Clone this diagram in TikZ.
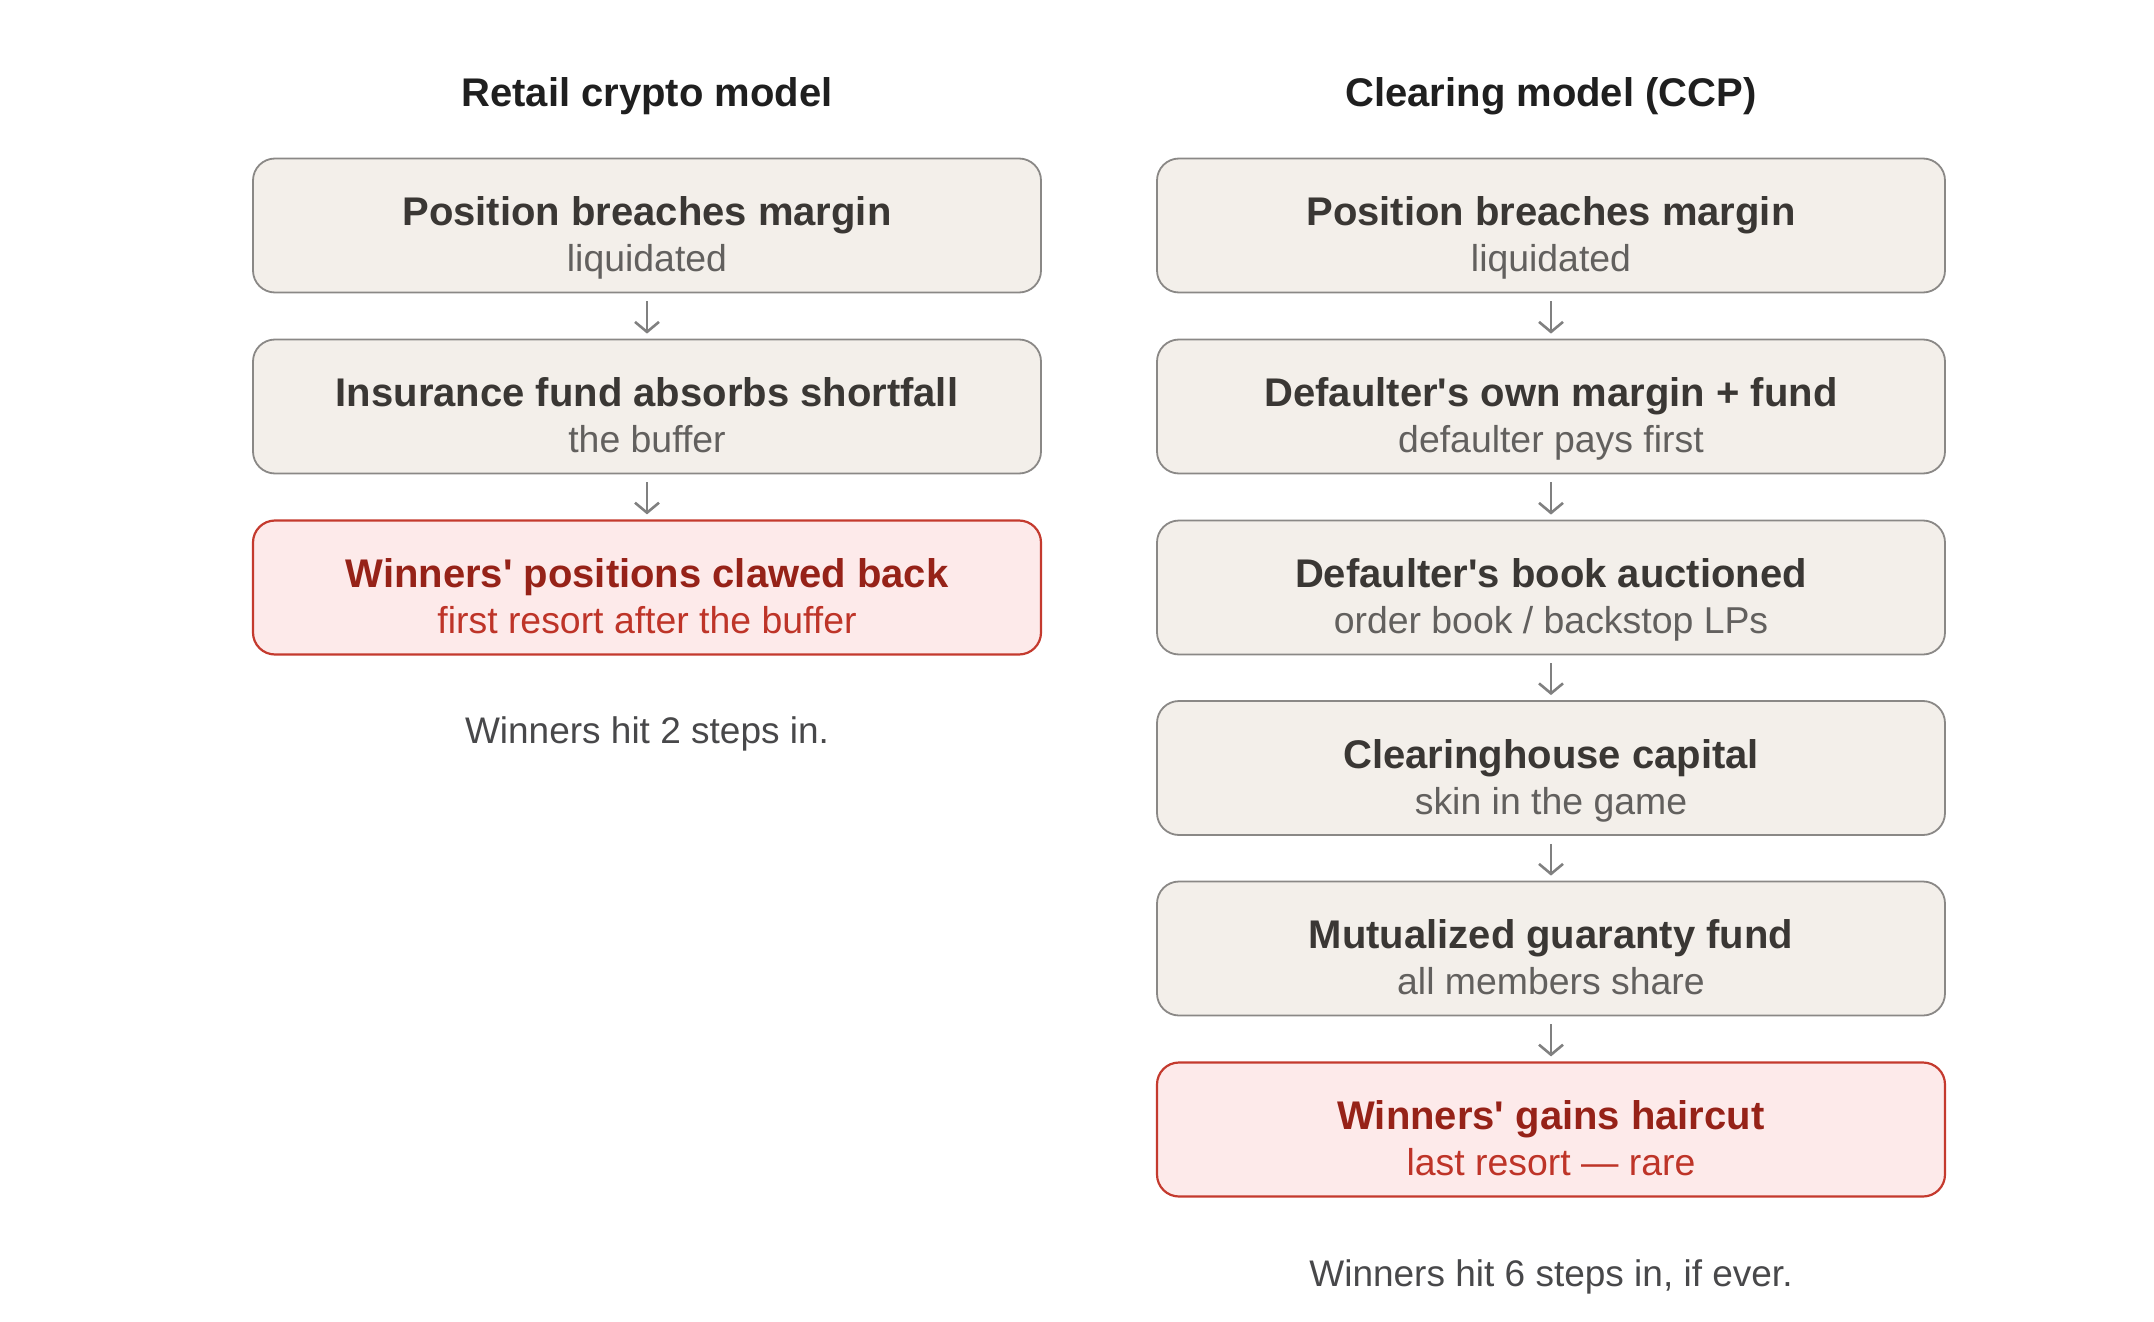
\documentclass[tikz,border=0pt]{standalone}
\usepackage{fontspec}
\setmainfont{Liberation Sans}
\usepackage{xcolor}
\usepackage{tikz}
\usetikzlibrary{arrows.meta}
\definecolor{boxfill}{RGB}{243, 239, 234}
\definecolor{boxline}{RGB}{138, 136, 134}
\definecolor{maintext}{RGB}{58, 55, 52}
\definecolor{subgray}{RGB}{98, 96, 94}
\definecolor{redfill}{RGB}{253, 234, 234}
\definecolor{redline}{RGB}{196, 58, 46}
\definecolor{redtext}{RGB}{150, 34, 24}
\definecolor{redsub}{RGB}{190, 52, 40}
\definecolor{arrowgray}{RGB}{128, 128, 128}
\definecolor{notegray}{RGB}{72, 72, 74}
\newcommand{\steptext}[3]{\begin{tabular}[t]{@{}c@{}}#1\\{\mdseries\fontsize{18.7}{22.9}\selectfont\color{#2}#3}\end{tabular}}

\begin{document}
\begin{tikzpicture}[
  x=0.5pt, y=-0.5pt,
  stepbox/.style={draw=boxline, fill=boxfill, line width=0.9pt, rounded corners=11pt,
              minimum width=394pt, minimum height=67pt, inner sep=0pt,
              text height=18.6pt, text depth=18.4pt,
              text=maintext, font=\bfseries\fontsize{20}{22.9}\selectfont},
  redbox/.style={stepbox, draw=redline, fill=redfill, line width=1.1pt, text=redtext},
  arrow/.style={-{Straight Barb[length=5pt, width=12pt, line width=1.3pt]},
                line width=1.3pt, draw=arrowgray, shorten <=4pt, shorten >=2.5pt},
  title/.style={font=\bfseries\fontsize{20}{24}\selectfont, text=black!88},
  note/.style={font=\fontsize{18.5}{22}\selectfont, text=notegray}
]
  \useasboundingbox (0, 0) rectangle (2154, 1322);

  % Column titles
  \node[title] (retail) at (647, 96) {Retail crypto model};
  \node[title] (clearing) at (1551, 96) {Clearing model (CCP)};

  % Retail crypto model
  \node[stepbox] (r1) at (647, 225.5)
    {\steptext{Position breaches margin}{subgray}{liquidated}};
  \node[stepbox] (r2) at (647, 406.5)
    {\steptext{Insurance fund absorbs shortfall}{subgray}{the buffer}};
  \node[redbox] (r3) at (647, 587.5)
    {\steptext{Winners\textquotesingle{} positions clawed back}{redsub}{first resort after the buffer}};

  % Clearing model (CCP)
  \node[stepbox] (c1) at (1551, 225.5)
    {\steptext{Position breaches margin}{subgray}{liquidated}};
  \node[stepbox] (c2) at (1551, 406.5)
    {\steptext{Defaulter\textquotesingle s own margin + fund}{subgray}{defaulter pays first}};
  \node[stepbox] (c3) at (1551, 587.5)
    {\steptext{Defaulter\textquotesingle s book auctioned}{subgray}{order book / backstop LPs}};
  \node[stepbox] (c4) at (1551, 768)
    {\steptext{Clearinghouse capital}{subgray}{skin in the game}};
  \node[stepbox] (c5) at (1551, 948.5)
    {\steptext{Mutualized guaranty fund}{subgray}{all members share}};
  \node[redbox] (c6) at (1551, 1129.5)
    {\steptext{Winners\textquotesingle{} gains haircut}{redsub}{last resort — rare}};

  % Notes
  \node[note] (rnote) at (647, 734) {Winners hit 2 steps in.};
  \node[note] (cnote) at (1551, 1277) {Winners hit 6 steps in, if ever.};

  % Arrows
  \draw[arrow] (r1) -- (r2);
  \draw[arrow] (r2) -- (r3);
  \draw[arrow] (c1) -- (c2);
  \draw[arrow] (c2) -- (c3);
  \draw[arrow] (c3) -- (c4);
  \draw[arrow] (c4) -- (c5);
  \draw[arrow] (c5) -- (c6);

\end{tikzpicture}
\end{document}
